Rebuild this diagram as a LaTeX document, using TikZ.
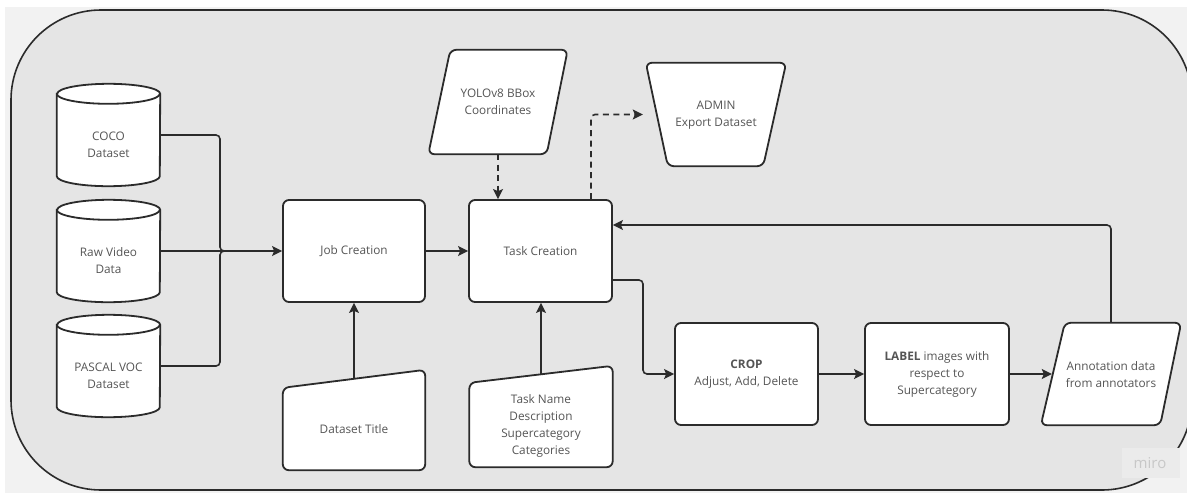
\documentclass[tikz,border=0pt]{standalone}
\usepackage{fontspec}
\setmainfont{Open Sans}
\usetikzlibrary{arrows.meta}
\definecolor{ln}{HTML}{2B2B2B}
\definecolor{tx}{HTML}{555555}
\definecolor{bgin}{HTML}{E5E5E5}
\definecolor{bgout}{HTML}{F2F2F2}
\definecolor{mirobg}{HTML}{EBEBEB}
\definecolor{mirotx}{HTML}{C8C8C8}
\tikzset{
  bx/.style 2 args={inner sep=0pt, minimum width=#1, minimum height=#2},
  shp/.style={draw=ln, fill=white, line width=1.8pt, rounded corners=6pt},
  txt/.style={text=tx, align=center, inner sep=0pt, font=\fontsize{11.8}{17}\selectfont},
  conn/.style={draw=ln, line width=1.6pt, rounded corners=4pt},
  arr/.style={conn, -{Stealth[length=10pt,width=10pt,inset=2pt]}},
  dsh/.style={arr, dash pattern=on 6pt off 4.5pt},
}
\newcommand\cylshape[1]{%
  \path[shp, sharp corners] ([yshift=-10pt]#1.north west) -- ([yshift=10pt]#1.south west)
    arc[start angle=180,end angle=360,x radius=51.5pt,y radius=10pt]
    -- ([yshift=-10pt]#1.north east)
    arc[start angle=0,end angle=180,x radius=51.5pt,y radius=10pt] -- cycle;
  \draw[shp, fill=none, sharp corners] ([yshift=-10pt]#1.north west)
    arc[start angle=180,end angle=360,x radius=51.5pt,y radius=10pt];}
\begin{document}
\begin{tikzpicture}[x=1pt,y=1pt]
\useasboundingbox (0,0) rectangle (1187,-493);
\fill[white] (0,0) rectangle (1187,-493);
\fill[bgout] (5,-7) rectangle (1187,-493);
\draw[draw=ln, line width=1.6pt, fill=bgin, rounded corners=90pt] (11,-10) rectangle (1192,-490);
% watermark
\fill[mirobg] (1122,-448) rectangle (1180,-478);
\node[font=\fontsize{15}{15}\selectfont, text=mirotx, inner sep=0pt] (miro) at (1150,-463) {miro};

% cylinders
\node[bx={103pt}{102pt}] (coco) at (108.5,-135) {};
\node[bx={103pt}{102pt}] (raw) at (108.5,-251) {};
\node[bx={103pt}{102pt}] (pascal) at (108.5,-366) {};
\cylshape{coco}\cylshape{raw}\cylshape{pascal}
\node[txt] (cocoT) at ([yshift=-10pt]coco.center) {COCO\\Dataset};
\node[txt] (rawT) at ([yshift=-10pt]raw.center) {Raw Video\\Data};
\node[txt] (pascalT) at ([yshift=-10pt]pascal.center) {PASCAL VOC\\Dataset};

% process boxes
\node[shp, txt, bx={142pt}{102pt}] (job) at (354,-251) {Job Creation};
\node[shp, txt, bx={143pt}{102pt}] (task) at (540.5,-251) {Task Creation};
\node[shp, txt, bx={143pt}{102pt}] (crop) at (746.5,-374) {\textbf{CROP}\\Adjust, Add, Delete};
\node[shp, txt, bx={144pt}{102pt}] (label) at (937,-374) {\textbf{LABEL} images with\\respect to\\Supercategory};

% manual inputs
\node[bx={142pt}{100pt}] (title) at (354,-420) {};
\draw[shp] ([yshift=-18pt]title.north west) -- (title.north east) -- (title.south east) -- (title.south west) -- cycle;
\node[txt] (titleT) at (354,-429) {Dataset Title};
\node[bx={143pt}{101pt}] (tname) at (541,-416.5) {};
\draw[shp] ([yshift=-17pt]tname.north west) -- (tname.north east) -- (tname.south east) -- (tname.south west) -- cycle;
\node[txt] (tnameT) at (541,-425.5) {Task Name\\Description\\Supercategory\\Categories};

% parallelograms
\node[bx={139pt}{104pt}] (yolo) at (498,-102) {};
\draw[shp] ([xshift=22pt]yolo.north west) -- (yolo.north east) -- ([xshift=-21pt]yolo.south east) -- (yolo.south west) -- cycle;
\node[txt] (yoloT) at (yolo.center) {YOLOv8 BBox\\Coordinates};
\node[bx={140pt}{102pt}] (annot) at (1111,-374) {};
\draw[shp] ([xshift=24pt]annot.north west) -- (annot.north east) -- ([xshift=-21pt]annot.south east) -- (annot.south west) -- cycle;
\node[txt] (annotT) at ([yshift=-0.5pt]annot.center) {Annotation data\\from annotators};

% trapezoid (admin)
\node[bx={140pt}{103pt}] (admin) at (716,-114.5) {};
\draw[shp] (admin.north west) -- (admin.north east) -- ([xshift=-23pt]admin.south east) -- ([xshift=22pt]admin.south west) -- cycle;
\node[txt] (adminT) at ([yshift=-1pt]admin.center) {ADMIN\\Export Dataset};

% connectors
\coordinate (jx) at (220,-251);
\coordinate (jx2) at (232,-251);
\coordinate (cx) at (643,-374);
\draw[conn] (coco.east) -| (jx) -- (jx2);
\draw[conn] (pascal.east) -| (jx) -- (jx2);
\draw[arr] (raw.east) -- (job.west);
\draw[arr] ([yshift=-9pt]title.north) -- (job.south);
\draw[arr] (job.east) -- (task.west);
\draw[arr] ([yshift=-8.5pt]tname.north) -- (tname.north |- task.south);
\draw[dsh] (yolo.south) -- (yolo.south |- task.north);
\draw[dsh, shorten >=3pt] ([xshift=50.5pt]task.north) |- (admin.west);
\draw[arr] ([yshift=-29pt]task.east) -| (cx) -- (crop.west);
\draw[arr] (crop.east) -- (label.west);
\draw[arr] (label.east) -- ([xshift=11pt]annot.west);
\draw[arr] (annot.north) |- ([yshift=26pt]task.east);
\end{tikzpicture}
\end{document}
